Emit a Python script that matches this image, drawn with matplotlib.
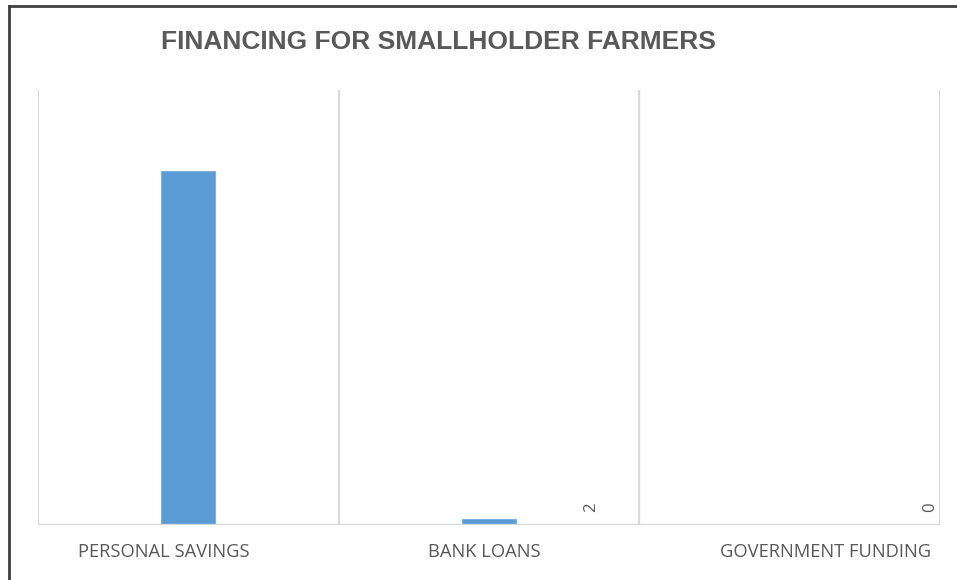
import matplotlib
matplotlib.use("Agg")
import matplotlib.pyplot as plt
from matplotlib.lines import Line2D

# financing sources and counts
categories = ["PERSONAL SAVINGS", "BANK LOANS", "GOVERNMENT FUNDING"]
counts = [118, 2, 0]
labelled = [False, True, True]   # which bars carry a value label

title = "FINANCING FOR SMALLHOLDER FARMERS"
grey_text = "#595959"
grid_grey = "#d9d9d9"
bar_blue = "#5b9bd5"

fig = plt.figure(figsize=(9.57, 5.8), dpi=100)
ax = fig.add_axes([38 / 957, 1 - 525 / 580, (940 - 38) / 957, (525 - 90) / 580])

xs = list(range(len(categories)))
ax.bar(xs, counts, width=0.18, color=bar_blue, edgecolor="#7fb1e0",
       linewidth=0.8, zorder=3)

ax.set_xlim(-0.5, len(categories) - 0.5)
ax.set_ylim(0, 145)

# vertical separators between categories
for xb in [x - 0.5 for x in xs] + [len(categories) - 0.5]:
    ax.axvline(xb, color=grid_grey, lw=1.6, zorder=1)
ax.axhline(0, color=grid_grey, lw=2.4, zorder=4)

for s in ax.spines.values():
    s.set_visible(False)
ax.set_yticks([])

# category labels sit a little off the bar centres
label_shift = [-0.08, -0.017, 0.12]
ax.set_xticks([x + d for x, d in zip(xs, label_shift)])
ax.set_xticklabels(categories, fontsize=13.2, color=grey_text,
                   family=["Open Sans", "DejaVu Sans"])
ax.tick_params(axis="x", length=0, pad=13)

# rotated value labels at the right of each category
value_shift = [0.34, 0.34, 0.466]
for x, v, show, d in zip(xs, counts, labelled, value_shift):
    if show:
        ax.text(x + d, 6, str(v), rotation=90, ha="center", va="center",
                fontsize=12, color=grey_text, family="Open Sans", zorder=5)

fig.text(438 / 957, 1 - 42 / 580, title, ha="center", va="center",
         fontsize=19, fontweight="bold", color=grey_text,
         family="Liberation Sans")

# outer chart frame along the left and top edges
fig.add_artist(Line2D([9 / 957, 9 / 957], [0, 1 - 6 / 580],
                      transform=fig.transFigure, color="#404040", lw=2))
fig.add_artist(Line2D([9 / 957, 1], [1 - 6 / 580, 1 - 6 / 580],
                      transform=fig.transFigure, color="#404040", lw=2))

fig.savefig("out.png", dpi=100)
